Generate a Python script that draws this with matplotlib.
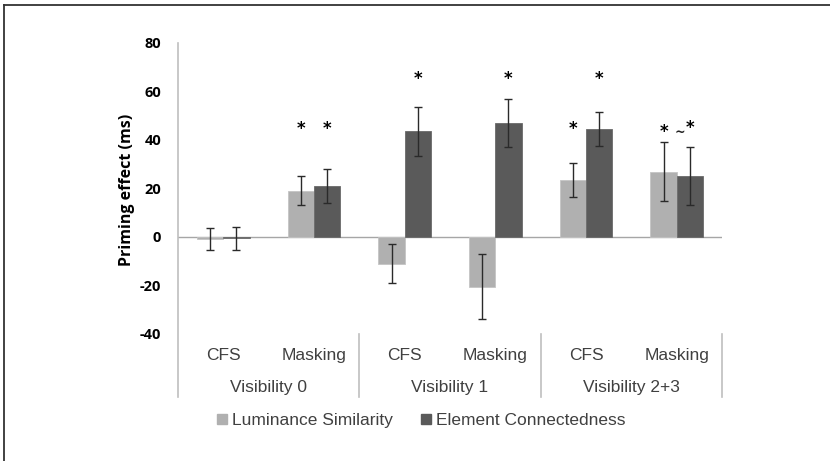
import numpy as np
import matplotlib
matplotlib.use('Agg')
import matplotlib.pyplot as plt
from matplotlib.lines import Line2D

plt.rcParams['font.family'] = ['Liberation Sans', 'DejaVu Sans']

# data
conditions = ['CFS', 'Masking', 'CFS', 'Masking', 'CFS', 'Masking']
groups = ['Visibility 0', 'Visibility 1', 'Visibility 2+3']
series = ['Luminance Similarity', 'Element Connectedness']
lum = [-1, 19, -11, -20.5, 23.5, 27]
lum_err = [4.5, 6, 8, 13.5, 7, 12]
elem = [-0.5, 21, 43.5, 47, 44.5, 25]
elem_err = [4.8, 7, 10, 10, 7, 12]
# significance marks: (condition index, series index, y, text)
stars_cat = [1, 1, 2, 3, 4, 4, 5, 5]
stars_ser = [0, 1, 1, 1, 0, 1, 0, 1]
stars_y = [44.5, 44.5, 65, 65, 44.5, 65, 43.5, 45]
stars_txt = ['*', '*', '*', '*', '*', '*', '*', '*']
tilde_cat, tilde_y = 5, 43

light = '#b0b0b0'
dark = '#5a5a5a'

fig = plt.figure(figsize=(8.3, 4.61), dpi=100)
ax = fig.add_axes([178/830, 1-397/461, (722-178)/830, (397-43)/461])

x = np.arange(len(conditions))
w = 0.29
ax.bar(x - w/2, lum, w, color=light, edgecolor='#c4c4c4', linewidth=0.6, zorder=2)
ax.bar(x + w/2, elem, w, color=dark, edgecolor='#6a6a6a', linewidth=0.6, zorder=2)
ax.errorbar(x - w/2, lum, yerr=lum_err, fmt='none', ecolor='#2a2a2a', elinewidth=1, capsize=3, capthick=1, zorder=3)
ax.errorbar(x + w/2, elem, yerr=elem_err, fmt='none', ecolor='#2a2a2a', elinewidth=1, capsize=3, capthick=1, zorder=3)

for c, s, yy, t in zip(stars_cat, stars_ser, stars_y, stars_txt):
    xx = c + (s - 0.5) * w
    ax.text(xx, yy, t, ha='center', va='center', fontsize=12, fontweight='bold',
            family=['DejaVu Sans'], color='black')
ax.text(tilde_cat + 0.04, tilde_y, '~', ha='center', va='center', fontsize=9, fontweight='bold',
        family=['DejaVu Sans'], color='#222222')

ax.axhline(0, color='#a6a6a6', lw=1, zorder=1)
ax.set_xlim(-0.5, len(conditions) - 0.5)
ax.set_ylim(-66, 80)
ax.set_yticks(np.arange(-40, 81, 20))
ax.set_yticklabels([str(v) for v in range(-40, 81, 20)], fontweight='bold', fontsize=10.5,
                   family=['Open Sans', 'DejaVu Sans'])
ax.tick_params(axis='y', length=0, pad=12)
ax.set_xticks([])
for sp in ['top', 'right', 'bottom']:
    ax.spines[sp].set_visible(False)
ax.spines['left'].set_color('#bfbfbf')
ax.spines['left'].set_linewidth(1.2)

ax.set_ylabel('Priming effect (ms)', fontweight='bold', fontsize=11.5, family=['Open Sans', 'DejaVu Sans'])
ax.yaxis.set_label_coords((127 - 178) / 544, (397 - 190) / 354)
ax.yaxis.label.set_va('center')

# category labels below
for i, c in enumerate(conditions):
    ax.text(i, -49, c, ha='center', va='center', fontsize=12.5, color='#404040')
for g, name in enumerate(groups):
    ax.text(2*g + 0.5, -62, name, ha='center', va='center', fontsize=12.5, color='#404040')
    ax.plot([2*g + 1.5]*2, [-40, -66], color='#bfbfbf', lw=1.2, clip_on=False)

handles = [Line2D([], [], marker='s', ls='none', color=light, markersize=7),
           Line2D([], [], marker='s', ls='none', color=dark, markersize=7)]
fig.legend(handles, series, loc='center', bbox_to_anchor=(421/830, 1-420/461), ncol=2,
           frameon=False, fontsize=12.5, handlelength=0.6, handletextpad=0.3, columnspacing=1.6,
           labelcolor='#404040')

# frame lines at top and left edge
fig.add_artist(Line2D([4/830, 1], [1-5/461]*2, color='#333333', lw=1.3))
fig.add_artist(Line2D([4/830]*2, [0, 1-5/461], color='#333333', lw=1.3))

fig.savefig('out.png', dpi=100)
